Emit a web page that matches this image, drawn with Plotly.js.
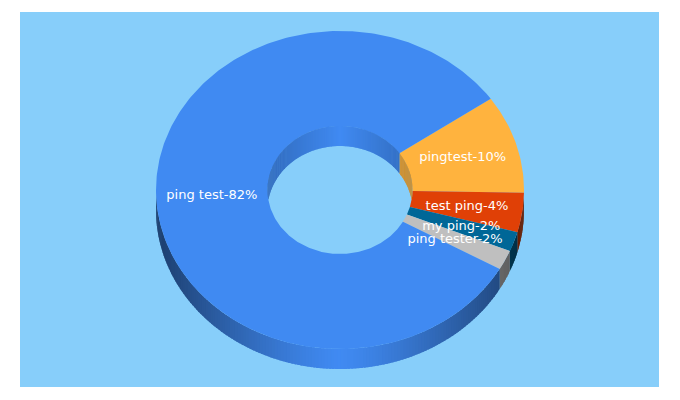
<!DOCTYPE html>
<html><head><meta charset="utf-8">
<script src="https://cdn.plot.ly/plotly-3.0.1.min.js"></script>
<style>html,body{margin:0;padding:0;background:#fff}#c{width:680px;height:400px}</style>
</head><body><div id="c"></div>
<script>
const labels = ["pingtest","test ping","my ping","ping tester","ping test"];
const values = [10,4,2,2,82];
const colors = [[255,179,62],[224,64,6],[0,103,151],[191,191,191],[64,138,242]];
const startAngle = 35;
const cx=340, cy=190, rx=184, ry=159, hx=72.5, hy=64, depth=20;
const rad=d=>d*Math.PI/180;
const traces=[];
function rgb(c,k){return `rgb(${c.map(v=>Math.round(v*k)).join(',')})`;}
function poly(xs,ys,color){traces.push({type:'scatter',mode:'lines',x:xs,y:ys,fill:'toself',fillcolor:color,line:{width:0,color:color},hoverinfo:'skip',showlegend:false});}
const outerShade=t=>1-0.55*Math.pow(t,1.25);
const innerShade=t=>1-0.22*t;
const total=values.reduce((a,b)=>a+b,0);
let a=startAngle; const spans=[];
values.forEach(v=>{const s=v/total*360;spans.push([a,a-s]);a-=s;});
function range(hi,lo,step){const r=[];for(let t=hi;t>lo;t-=step)r.push(t);r.push(lo);return r;}
// outer wall, visible on the lower half
spans.forEach((sp,i)=>{
  const hi=Math.min(sp[0],0), lo=Math.max(sp[1],-180);
  if(hi<=lo)return;
  const r=range(hi,lo,1);
  for(let j=0;j<r.length-1;j++){
    const th=[r[j],Math.max(r[j+1]-0.7,lo)];
    const xs=[],ys=[];
    th.forEach(t=>{xs.push(cx+rx*Math.cos(rad(t)));ys.push(cy-ry*Math.sin(rad(t)));});
    th.slice().reverse().forEach(t=>{xs.push(cx+rx*Math.cos(rad(t)));ys.push(cy-ry*Math.sin(rad(t))+depth);});
    const m=(r[j]+r[j+1])/2;
    poly(xs,ys,rgb(colors[i],outerShade(Math.abs(Math.cos(rad(m))))));
  }
});
// top faces
spans.forEach((sp,i)=>{
  const r=range(sp[0],sp[1],1);
  const xs=[],ys=[];
  r.forEach(t=>{xs.push(cx+rx*Math.cos(rad(t)));ys.push(cy-ry*Math.sin(rad(t)));});
  r.slice().reverse().forEach(t=>{xs.push(cx+hx*Math.cos(rad(t)));ys.push(cy-hy*Math.sin(rad(t)));});
  poly(xs,ys,rgb(colors[i],1));
});
// inner wall, visible on the upper half of the hole
spans.forEach((sp,i)=>{
  [[0,180],[-360,-180]].forEach(w=>{
    const hi=Math.min(sp[0],w[1]), lo=Math.max(sp[1],w[0]);
    if(hi<=lo)return;
    const r=range(hi,lo,1);
    for(let j=0;j<r.length-1;j++){
      const th=[r[j],Math.max(r[j+1]-0.7,lo)];
      const xs=[],ys=[];
      th.forEach(t=>{xs.push(cx+hx*Math.cos(rad(t)));ys.push(cy-hy*Math.sin(rad(t)));});
      th.slice().reverse().forEach(t=>{
        const s=Math.abs(Math.sin(rad(t)));
        xs.push(cx+hx*Math.cos(rad(t)));
        ys.push(Math.min(cy-hy*s+depth,cy+hy*s));
      });
      const m=(r[j]+r[j+1])/2;
      poly(xs,ys,rgb(colors[i],innerShade(Math.abs(Math.cos(rad(m))))));
    }
  });
});
// labels at mid-radius of each slice
const lx=[],ly=[],lt=[];
spans.forEach((sp,i)=>{
  const m=(sp[0]+sp[1])/2;
  lx.push(cx+(rx+hx)/2*Math.cos(rad(m)));
  ly.push(cy+0.6-(ry+hy)/2*Math.sin(rad(m)));
  lt.push(labels[i]+'-'+values[i]+'%');
});
traces.push({type:'scatter',mode:'text',x:lx,y:ly,text:lt,textposition:'middle center',
  textfont:{family:'DejaVu Sans',size:13,color:'#ffffff'},hoverinfo:'skip',showlegend:false});
const hidden=r=>({range:r,visible:false,fixedrange:true,showgrid:false,zeroline:false});
Plotly.newPlot('c',traces,{
  width:680,height:400,showlegend:false,
  margin:{l:20,r:21,t:12,b:13,pad:0},
  paper_bgcolor:'#ffffff',plot_bgcolor:'#87cefa',
  xaxis:hidden([20,659]),yaxis:hidden([387,12])
},{displayModeBar:false,staticPlot:true});
</script></body></html>
